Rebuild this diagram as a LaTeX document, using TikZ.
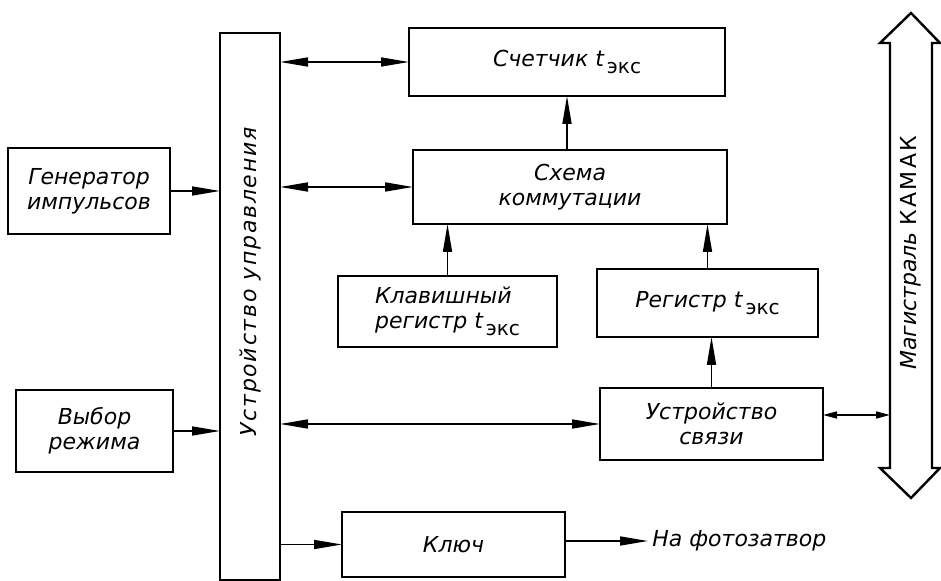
\documentclass[tikz,border=0pt]{standalone}
\usepackage{fontspec}
\setmainfont{DejaVu Sans}
\usetikzlibrary{arrows.meta}
\newcommand{\texs}{t\kern1.5pt\raisebox{-0.6ex}{\upshape\fontsize{10}{10}\selectfont экс}}
\tikzset{
  blok/.style={draw,line width=1.2pt,inner sep=0pt,outer sep=0pt,align=center,font=\fontsize{11}{12.5}\selectfont\itshape},
  nadpis/.style={inner sep=2pt,font=\fontsize{11}{12.5}\selectfont\itshape},
  strelka/.tip={Triangle[length=14pt,width=4.5pt]},
  malaya/.tip={Triangle[length=7pt,width=3.5pt]},
  svyaz/.style={line width=0.8pt,-strelka},
  dvusvyaz/.style={line width=0.8pt,strelka-strelka}
}
\begin{document}
\begin{tikzpicture}[x=0.5pt,y=-0.5pt]
\useasboundingbox (0,0) rectangle (941,581);
% blocks
\node[blok,minimum width=81pt,minimum height=43pt] (gen) at (89,191) {Генератор\\импульсов};
\node[blok,minimum width=78.5pt,minimum height=41pt] (vyb) at (94.5,431) {Выбор\\режима};
\node[blok,minimum width=30pt,minimum height=273.5pt] (upr) at (250,306.5) {};
\node[nadpis,rotate=90,font=\fontsize{11}{12.5}\selectfont\itshape\addfontfeature{LetterSpace=8}] (uprtxt) at (250,282) {Устройство управления};
\node[blok,minimum width=158pt,minimum height=34pt] (sch) at (567,62) {Счетчик \texs};
\node[blok,minimum width=157pt,minimum height=37pt] (kom) at (570,187) {Схема\\коммутации};
\node[blok,minimum width=109.5pt,minimum height=35.5pt,align=left] (klav) at (447.5,311.5) {Клавишный\\регистр \texs};
\node[blok,minimum width=110.5pt,minimum height=34pt] (reg) at (707.5,303) {Регистр \texs};
\node[blok,minimum width=111.5pt,minimum height=36pt] (usv) at (711.5,424) {Устройство\\связи};
\node[blok,minimum width=111.5pt,minimum height=32.5pt] (klyuch) at (453.5,544.5) {Ключ};
\node[nadpis,anchor=west] (foto) at (648,541) {На фотозатвор};
% magistral
\draw[line width=1.2pt] (890,43) -- (880,43) -- (911,13) -- (940,43) -- (932,43)
  -- (932,468) -- (940,468) -- (911,498) -- (880,468) -- (890,468) -- cycle;
\node[nadpis,rotate=90] (magtxt) at (911,253) {Магистраль \addfontfeature{LetterSpace=10}\upshape КАМАК};
\coordinate (shina) at (890,415);
% connections
\draw[svyaz] (gen.east) -- (gen.east -| upr.west);
\draw[svyaz] (vyb.east) -- (vyb.east -| upr.west);
\draw[dvusvyaz] (upr.east |- sch.west) -- (sch.west);
\draw[dvusvyaz] (upr.east |- kom.west) -- (kom.west);
\draw[dvusvyaz] (upr.east |- usv.west) -- (usv.west);
\draw[svyaz] (upr.east |- klyuch.west) -- (klyuch.west);
\draw[svyaz] (kom.north -| sch.south) -- (sch.south);
\draw[svyaz] (klav.north) -- (klav.north |- kom.south);
\draw[svyaz] (reg.north) -- (reg.north |- kom.south);
\draw[svyaz] (usv.north) -- (usv.north |- reg.south);
\draw[line width=0.8pt,malaya-malaya] (usv.east |- shina) -- (shina);
\draw[svyaz] (klyuch.east |- foto) -- (foto.west);
\end{tikzpicture}
\end{document}
